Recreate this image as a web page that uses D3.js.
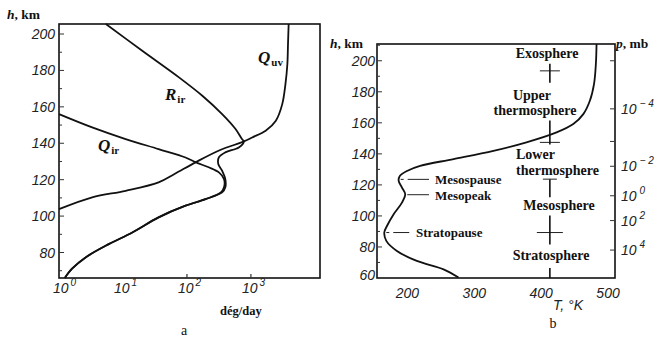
<!DOCTYPE html>
<html><head><meta charset="utf-8">
<script src="https://cdn.jsdelivr.net/npm/d3@7"></script>
<style>
body{margin:0;background:#fff;}
svg{display:block;background:#fff;}
.tl{font-family:"Liberation Sans",Arial,sans-serif;font-style:italic;font-size:14px;fill:#222;}
.sf{font-family:"Liberation Serif","Times New Roman",serif;font-weight:bold;fill:#111;}
</style></head><body>
<svg id="c" width="659" height="339"></svg>
<script>
// ---------- Panel a data (heating/cooling rates, deg/day) ----------
const aHeightTicks = [80,100,120,140,160,180,200];
const aDecades = [0,1,2,3];
const qUvH = [205.5,194.5,183.5,172.5,161.5,152.4,146.9,143.2,141,136.3,129.8,123,118.5,113.9,110.3,103.8];
const qUvV = [3890,3800,3715,3467,3090,2455,1700,1047,776,331,141,63,36,11,3.3,1];
const qIrH = [156,148.7,142.3,136.8,132.2,129.5,126.8,124,120.3,115.8,113];
const qIrV = [1,3.3,11,36,95,138,219,316,380,380,339];
const rIrH = [205.5,190.8,176.2,166.1,156,147.8,142.3,141,137.7,135,132.3,128.6,124.9,120.3,115.8,113];
const rIrV = [5.4,20,75,174,355,575,724,776,646,398,316,309,355,398,398,355];
const lowH = [109.3,105.7,99.3,91,84.6,77.3,71.1,66];
const lowV = [195,95,36,14,6,2.6,1.6,1.23];

// ---------- Panel b data (temperature profile) ----------
const bHeightTicks = [60,80,100,120,140,160,180,200];
const bTempTicks = [200,300,400,500];
const tempH = [210.8,197.9,185,174.2,165.6,159.2,153.8,147.4,141.9,136.6,132.3,129,125.8,122.6,118.3,114,108.6,101.1,93.5,89.3,83.9,77.4,71,65.6,60.3];
const tempT = [482.8,481.8,479,472.8,463,448,423,378,328.6,269,219,199.3,188.6,186.9,191.8,196.7,191.8,179.4,169.4,165.4,168.4,184.3,214,254,276.4];
const pressExp = ["-4","-2","0","2","4"];
const pressH = [169,132,113,97,78];
const pressMinorH = [200,148];
const featNames = ["Mesospause","Mesopeak","Stratopause"];
const featH = [122.6,114,89.3];
const featT = [186.9,196.7,165.4];
const layerNames = ["Exosphere","Upper","thermosphere","Lower","thermosphere","Mesosphere","Stratosphere"];
const boundaryH = [193.5,147.4,123.7,89.3];

const svg = d3.select("#c");
svg.append("rect").attr("width",659).attr("height",339).attr("fill","#fff");

// ================= Panel a =================
const xa = d3.scaleLog().domain([1, Math.pow(10,4.08)]).range([59,320]);
const ya = d3.scaleLinear().domain([66,205.5]).range([278,24]);
const ga = svg.append("g");
ga.append("rect").attr("x",59).attr("y",24).attr("width",261).attr("height",254)
  .attr("fill","none").attr("stroke","#111").attr("stroke-width",1.6);
d3.range(70,206,10).forEach(h=>{
  ga.append("line").attr("x1",59).attr("x2",h%20===0?64:62).attr("y1",ya(h)).attr("y2",ya(h))
    .attr("stroke","#333").attr("stroke-width",1);
});
ga.selectAll("text.yl").data(aHeightTicks).enter().append("text").attr("class","tl")
  .attr("x",55).attr("y",d=>ya(d)+5).attr("text-anchor","end").text(d=>d);
[2,3].forEach(k=>{
  ga.append("line").attr("x1",xa(Math.pow(10,k))).attr("x2",xa(Math.pow(10,k)))
    .attr("y1",278).attr("y2",274).attr("stroke","#333").attr("stroke-width",1.2);
});
aDecades.forEach(k=>{
  const t = ga.append("text").attr("class","tl").attr("x",xa(Math.pow(10,k))-9+(k===0?3:0)).attr("y",293);
  t.append("tspan").text("10");
  t.append("tspan").attr("dy",-7).attr("dx",2).style("font-size","10px").text(k);
});
const t1 = ga.append("text").attr("x",7).attr("y",19).attr("class","sf").style("font-size","13.5px");
t1.append("tspan").style("font-style","italic").text("h");
t1.append("tspan").text(", km");
ga.append("text").attr("class","sf").attr("x",220).attr("y",315).style("font-size","12.5px").text("dég/day");
ga.append("text").attr("class","sf").attr("x",184).attr("y",335).attr("text-anchor","middle")
  .style("font-size","14px").style("font-weight","normal").text("a");

const lineA = d3.line().x(d=>xa(d[1])).y(d=>ya(d[0])).curve(d3.curveCatmullRom.alpha(0.5));
const zipA = (H,V)=>H.map((h,i)=>[h,V[i]]);
const curves = [zipA(qUvH,qUvV), zipA(qIrH.concat(lowH), qIrV.concat(lowV)), zipA(rIrH.concat(lowH), rIrV.concat(lowV))];
ga.selectAll("path.c").data(curves).enter().append("path")
  .attr("d",lineA).attr("fill","none").attr("stroke","#111").attr("stroke-width",1.8);

function qlabel(g,x,y,main,sub){
  const t = g.append("text").attr("x",x).attr("y",y).attr("class","sf");
  t.append("tspan").style("font-style","italic").style("font-size","17px").text(main);
  t.append("tspan").attr("dy",3).attr("dx",1).style("font-size","11px").text(sub);
}
qlabel(ga,258,63,"Q","uv");
qlabel(ga,165,100,"R","ir");
qlabel(ga,98,151,"Q","ir");

// ================= Panel b =================
const xb = d3.scaleLinear().domain([154.5,510.4]).range([377,615]);
const yb = d3.scaleLinear().domain([60,210.8]).range([278,44]);
const gb = svg.append("g");
gb.append("rect").attr("x",377).attr("y",44).attr("width",238).attr("height",234)
  .attr("fill","none").attr("stroke","#111").attr("stroke-width",1.6);
d3.range(70,211,10).forEach(h=>{
  gb.append("line").attr("x1",377).attr("x2",h%20===0?382:380).attr("y1",yb(h)).attr("y2",yb(h))
    .attr("stroke","#333").attr("stroke-width",1);
});
gb.selectAll("text.yl").data(bHeightTicks).enter().append("text").attr("class","tl")
  .attr("x",375).attr("y",d=>Math.min(yb(d)+5,280)).attr("text-anchor","end").text(d=>d);
gb.selectAll("text.xl").data(bTempTicks).enter().append("text").attr("class","tl")
  .attr("x",d=>xb(d)).attr("y",298).attr("text-anchor","middle").text(d=>d);
pressH.concat(pressMinorH).forEach(h=>{
  gb.append("line").attr("x1",615).attr("x2",610).attr("y1",yb(h)).attr("y2",yb(h))
    .attr("stroke","#333").attr("stroke-width",1);
});
pressH.forEach((h,i)=>{
  const t = gb.append("text").attr("class","tl").attr("x",621).attr("y",yb(h)+5);
  t.append("tspan").text("10");
  t.append("tspan").attr("dy",-7).attr("dx",3).style("font-size","10px").text(pressExp[i].replace("-","\u2212 "));
});
const t2 = gb.append("text").attr("x",330).attr("y",48).attr("class","sf").style("font-size","13.5px");
t2.append("tspan").style("font-style","italic").text("h");
t2.append("tspan").text(", km");
const t3 = gb.append("text").attr("x",616).attr("y",48).attr("class","sf").style("font-size","13.5px");
t3.append("tspan").style("font-style","italic").text("p");
t3.append("tspan").text(", mb");
gb.append("text").attr("class","tl").attr("x",553).attr("y",310).text("T, °K");
gb.append("text").attr("class","sf").attr("x",553).attr("y",328).attr("text-anchor","middle")
  .style("font-size","14px").style("font-weight","normal").text("b");

const lineB = d3.line().x(d=>xb(d[1])).y(d=>yb(d[0])).curve(d3.curveCatmullRom.alpha(0.5));
gb.append("path").datum(tempH.map((h,i)=>[h,tempT[i]])).attr("d",lineB)
  .attr("fill","none").attr("stroke","#111").attr("stroke-width",1.8);

// feature annotations
const featLayout = [{tx:435, dash:"3,4,22", dy:3, ly:-1.5},{tx:435, dash:null, dy:5.5, ly:0.5},{tx:416, dash:"3,4,16", dy:4.5, ly:0}];
featNames.forEach((n,i)=>{
  const y = yb(featH[i]);
  const l = gb.append("line").attr("x1",xb(featT[i])+2).attr("x2",featLayout[i].tx-6)
    .attr("y1",y+featLayout[i].ly).attr("y2",y+featLayout[i].ly).attr("stroke","#222").attr("stroke-width",1);
  if(featLayout[i].dash) l.attr("stroke-dasharray",featLayout[i].dash);
  gb.append("text").attr("class","sf").attr("x",featLayout[i].tx).attr("y",y+featLayout[i].dy)
    .style("font-size","13px").text(n);
});

// layer names
const layerLayout = [[547,58,"middle"],[532,100,"middle"],[535,114.5,"middle"],[516,158.5,"start"],[516,174.5,"start"],[559,210,"middle"],[551,260,"middle"]];
layerNames.forEach((n,i)=>{
  gb.append("text").attr("class","sf").attr("x",layerLayout[i][0]).attr("y",layerLayout[i][1])
    .attr("text-anchor",layerLayout[i][2]).style("font-size","14px").text(n);
});
// boundary markers
const bx = xb(413);
const markLayout = [[-7,12,10],[-22,2,10],[0,18,7],[-17,12,13]];
boundaryH.forEach((h,i)=>{
  const y = yb(h), m = markLayout[i];
  gb.append("line").attr("x1",bx-m[2]).attr("x2",bx+m[2]).attr("y1",y).attr("y2",y).attr("stroke","#222").attr("stroke-width",1);
  gb.append("line").attr("x1",bx).attr("x2",bx).attr("y1",y+m[0]).attr("y2",y+m[1]).attr("stroke","#111").attr("stroke-width",1.6);
});
gb.append("line").attr("x1",bx).attr("x2",bx).attr("y1",268).attr("y2",278).attr("stroke","#111").attr("stroke-width",1.6);
</script></body></html>
